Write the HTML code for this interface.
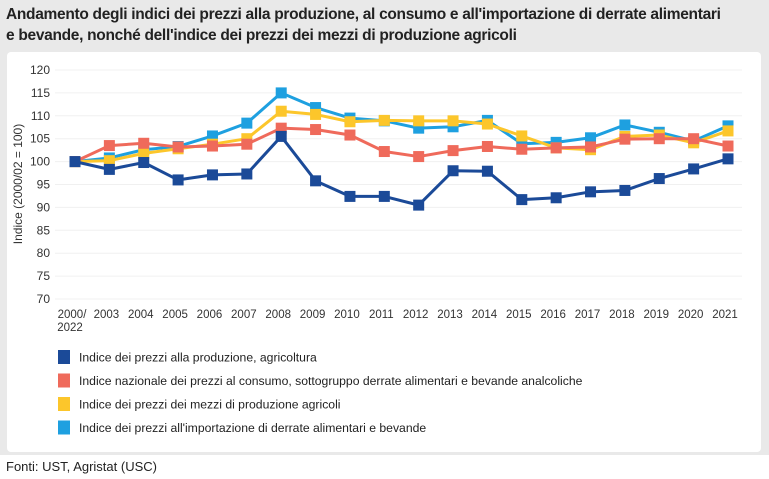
<!DOCTYPE html>
<html><head><meta charset="utf-8"><style>
body{margin:0;width:769px;height:479px;background:#e9e9e9;font-family:"Liberation Sans",sans-serif;position:relative;overflow:hidden}
#title{position:absolute;left:6px;top:4px;font-size:15.5px;font-weight:bold;color:#222;line-height:21px;letter-spacing:-0.3px}
#panel{position:absolute;left:7px;top:52px;width:754px;height:400px;background:#fff;border-radius:4px}
#foot{position:absolute;left:0;top:455px;width:769px;height:24px;background:#fff}
#foot span{position:absolute;left:6px;top:4px;font-size:13px;color:#222}
svg{position:absolute;left:0;top:0}
</style></head><body>
<div id="title">Andamento degli indici dei prezzi alla produzione, al consumo e all'importazione di derrate alimentari<br>e bevande, nonché dell'indice dei prezzi dei mezzi di produzione agricoli</div>
<div id="panel"></div>
<div id="foot"><span>Fonti: UST, Agristat (USC)</span></div>
<svg id="chart" width="769" height="479"></svg>
<script>
const categories=["2000/","2003","2004","2005","2006","2007","2008","2009","2010","2011","2012","2013","2014","2015","2016","2017","2018","2019","2020","2021"];
const yTicks=[70,75,80,85,90,95,100,105,110,115,120];
const seriesNames=["Indice dei prezzi alla produzione, agricoltura","Indice nazionale dei prezzi al consumo, sottogruppo derrate alimentari e bevande analcoliche","Indice dei prezzi dei mezzi di produzione agricoli","Indice dei prezzi all'importazione di derrate alimentari e bevande"];
const produzione=[100,98.3,99.8,96,97.1,97.3,105.5,95.8,92.4,92.4,90.5,98,97.9,91.7,92.1,93.4,93.7,96.3,98.4,100.6];
const consumo=[100,103.5,104,103.2,103.4,103.8,107.3,107,105.8,102.2,101.1,102.4,103.3,102.7,103,103.2,104.9,105,105,103.4];
const mezzi=[100,100.2,101.8,102.8,103.8,105,111,110.3,108.7,109,108.9,108.9,108.2,105.6,103,102.6,105.5,105.8,104.1,106.7];
const importazione=[100,100.8,102.6,103.3,105.6,108.4,115,111.8,109.5,108.9,107.3,107.6,109,103.9,104.2,105.2,108,106.4,104.5,107.8];
const colors=["#1b4a98","#ef6a5b","#fcc62b","#1ea0e0"];
const NS="http://www.w3.org/2000/svg";
const svg=document.getElementById('chart');
const x=i=>75+i*(728-75)/(categories.length-1);
const y=v=>299-(v-70)*(299-70)/50;
function mk(t,a){const e=document.createElementNS(NS,t);for(const k in a)e.setAttribute(k,a[k]);svg.appendChild(e);return e;}
yTicks.forEach(v=>{
 const g=mk('line',{x1:55,x2:742,y1:y(v),y2:y(v),stroke:'#f0f0f0','stroke-width':1});
 
 
 const t=mk('text',{x:50,y:y(v)+4,'font-size':12,fill:'#333','text-anchor':'end'});
 
 
 t.textContent=v;
});
categories.forEach((c,i)=>{
 const t=mk('text',{x:x(i)-3,y:318,'font-size':11.5,fill:'#333','text-anchor':'middle'});
 
 
 t.textContent=c;
});
const t2=mk('text',{x:x(0)-5,y:331,'font-size':11.5,fill:'#333','text-anchor':'middle'});


t2.textContent='2022';
const yt=mk('text',{x:0,y:0,'font-size':12,fill:'#333','text-anchor':'middle',transform:'translate(22,184) rotate(-90)'});


yt.textContent='Indice (2000/02 = 100)';
const all=[produzione,consumo,mezzi,importazione];
const drawOrder=[3,2,1,0];
drawOrder.forEach(s=>{
 const d=all[s];
 const p=mk('polyline',{points:d.map((v,i)=>x(i)+','+y(v)).join(' '),fill:'none',stroke:colors[s],'stroke-width':3,'stroke-linejoin':'round'});
 
 
 d.forEach((v,i)=>{
  const r=mk('rect',{x:x(i)-5.5,y:y(v)-5.5,width:11,height:11,fill:colors[s]});
  
  
 });
});
seriesNames.forEach((n,s)=>{
 const yy=357+s*23.5;
 const r=mk('rect',{x:58,y:yy-7,width:12,height:14,fill:colors[s]});
 
 
 const t=mk('text',{x:79,y:yy+4.5,'font-size':12.2,fill:'#222'});
 
 
 t.textContent=n;
});
</script>
</body></html>
